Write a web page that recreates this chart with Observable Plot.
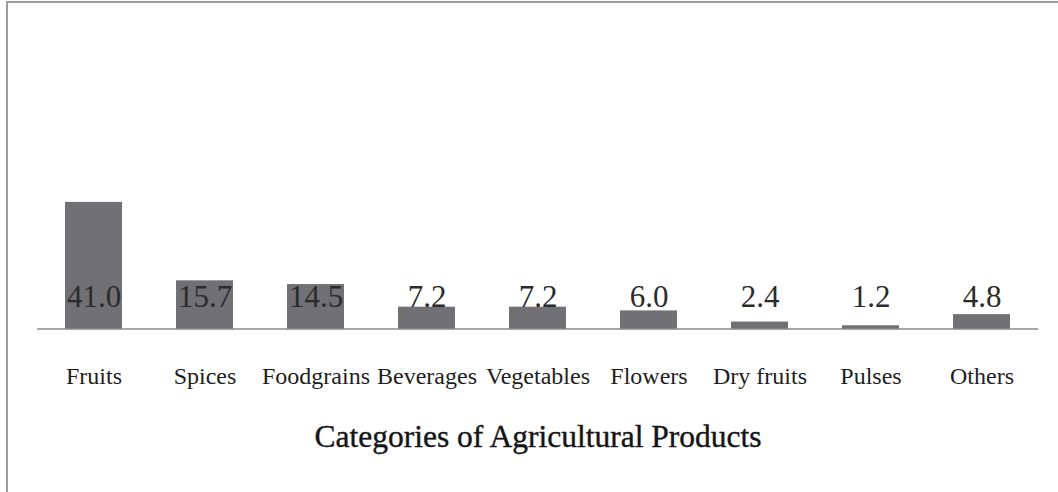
<!DOCTYPE html>
<html>
<head>
<meta charset="utf-8">
<script src="https://cdn.jsdelivr.net/npm/d3@7"></script>
<script src="https://cdn.jsdelivr.net/npm/@observablehq/plot@0.6"></script>
<style>
  html, body { margin: 0; padding: 0; background: #fff; }
  #wrap { position: relative; width: 1058px; height: 492px; overflow: hidden; }
  #frame { position: absolute; left: 6px; top: 1px; width: 1100px; height: 600px;
           border-top: 2px solid #9c9c9c; border-left: 2px solid #9c9c9c; box-sizing: border-box; }
  #chart { position: absolute; left: 0; top: 0; }
</style>
</head>
<body>
<div id="wrap"><div id="frame"></div><div id="chart"></div></div>
<script>
const categories = ["Fruits", "Spices", "Foodgrains", "Beverages", "Vegetables", "Flowers", "Dry fruits", "Pulses", "Others"];
const values = [41.0, 15.7, 14.5, 7.2, 7.2, 6.0, 2.4, 1.2, 4.8];
const xTitle = "Categories of Agricultural Products";

const data = categories.map((c, i) => ({category: c, value: values[i]}));
const serif = "'Liberation Serif', 'DejaVu Serif', serif";

const chart = Plot.plot({
  width: 1058,
  height: 492,
  marginLeft: 37,
  marginRight: 20,
  marginTop: 10,
  marginBottom: 163,
  style: {background: "transparent", fontFamily: serif},
  x: {domain: categories, paddingInner: 0.49, paddingOuter: 0.245, axis: null},
  y: {domain: [0, 41], range: [329, 201.9], axis: null},
  marks: [
    Plot.barY(data, {x: "category", y: "value", fill: "#707075"}),
    Plot.ruleY([0], {stroke: "#8a8a8a", strokeWidth: 1.5, dy: -0.5}),
    Plot.text(data, {x: "category", y: () => 0, text: d => d.value.toFixed(1),
      dy: -32, lineAnchor: "middle", fontSize: 31, fill: "#2b2b2b", fontFamily: serif}),
    Plot.text(data, {x: "category", y: () => 0, text: "category",
      dy: 47, lineAnchor: "middle", fontSize: 24, fill: "#1e1e1e", fontFamily: serif}),
    Plot.text([xTitle], {frameAnchor: "bottom", text: d => d, dy: 107,
      lineAnchor: "middle", fontSize: 31.5, fill: "#151515", fontFamily: serif,
      stroke: "#151515", strokeWidth: 0.4})
  ]
});
document.getElementById("chart").appendChild(chart);
</script>
</body>
</html>
